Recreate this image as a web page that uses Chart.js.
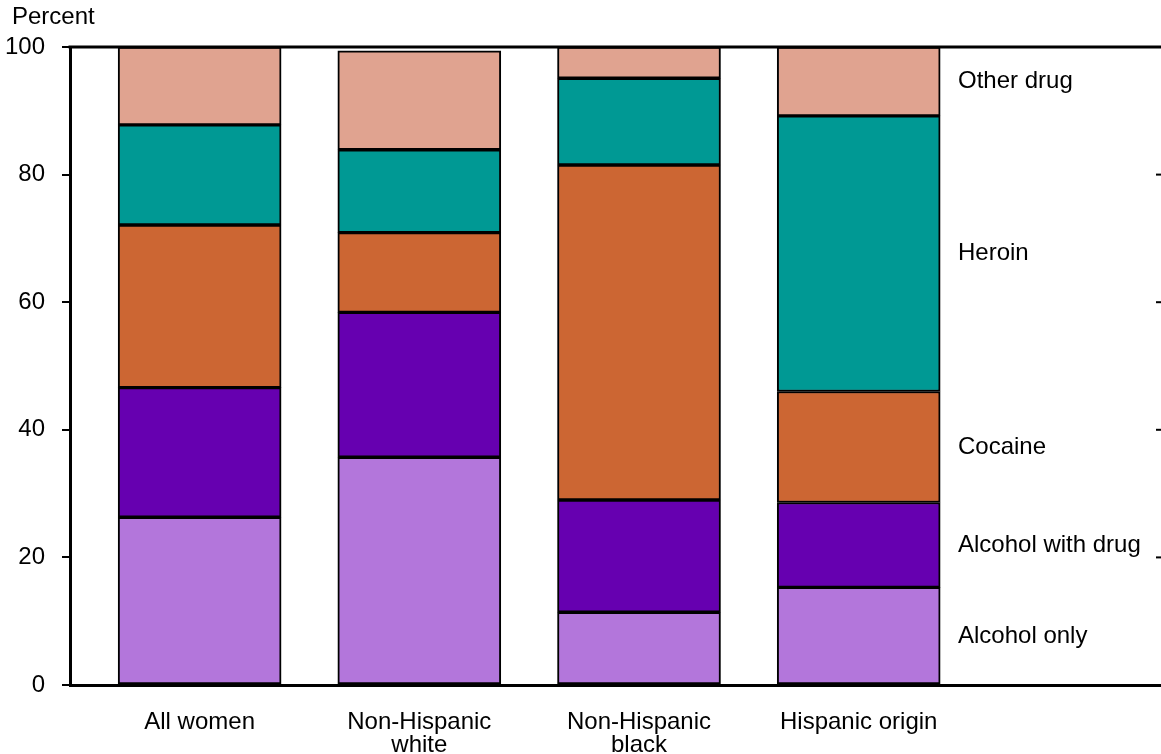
<!DOCTYPE html>
<html>
<head>
<meta charset="utf-8">
<script src="https://cdn.jsdelivr.net/npm/chart.js@4.4.0/dist/chart.umd.min.js"></script>
<style>
  html, body { margin: 0; padding: 0; background: #fff; }
  #wrap { width: 1161px; height: 754px; position: relative; }
</style>
</head>
<body>
<div id="wrap"><canvas id="chart" width="1161" height="754"></canvas></div>
<script>
// Categories (x positions 1..4)
const groups = [['All women'], ['Non-Hispanic', 'white'], ['Non-Hispanic', 'black'], ['Hispanic origin']];
const seriesNames = ['Alcohol only', 'Alcohol with drug', 'Cocaine', 'Heroin', 'Other drug'];

// Percent of women, by drug of choice
const alcoholOnly = [26.3, 35.7, 11.4, 15.3];
const alcoholWithDrug = [20.3, 22.7, 17.6, 13.3];
const cocaine = [25.5, 12.5, 52.5, 17.4];
const heroin = [15.7, 13.0, 13.6, 43.2];
const otherDrug = [12.2, 15.5, 4.9, 10.8];

const yTicks = [0, 20, 40, 60, 80, 100];
const colors = ['#b376db', '#6600b0', '#cc6633', '#009994', '#e0a390'];

const FONT = 'Liberation Sans, Arial, Helvetica, sans-serif';
const seriesValues = [alcoholOnly, alcoholWithDrug, cocaine, heroin, otherDrug];

const datasets = seriesValues.map((vals, i) => ({
  label: seriesNames[i],
  data: vals.map((v, j) => ({ x: j + 1, y: v })),
  backgroundColor: colors[i],
  borderColor: '#000',
  borderWidth: 2,
  borderSkipped: false,
  barThickness: 163
}));

// Frame lines, right-side ticks, axis title and the series labels
const extras = {
  id: 'extras',
  afterDraw(chart) {
    const { ctx, chartArea: a, scales } = chart;
    const y = scales.y;
    ctx.save();
    ctx.strokeStyle = '#000';
    ctx.lineWidth = 3;
    ctx.beginPath();
    ctx.moveTo(a.left - 1.5, a.top);
    ctx.lineTo(a.right, a.top);
    ctx.stroke();

    ctx.lineWidth = 2;
    yTicks.slice(1, -1).forEach(t => {
      const py = y.getPixelForValue(t);
      ctx.beginPath();
      ctx.moveTo(a.right - 5, py);
      ctx.lineTo(a.right, py);
      ctx.stroke();
    });

    ctx.fillStyle = '#000';
    ctx.font = '24px ' + FONT;
    ctx.textBaseline = 'middle';
    ctx.textAlign = 'left';
    ctx.fillText('Percent', 12, 17);

    // labels beside the last bar, at segment midpoints
    const last = groups.length - 1;
    let base = 0;
    seriesValues.forEach((vals, i) => {
      const mid = base + vals[last] / 2;
      base += vals[last];
      ctx.fillText(seriesNames[i], 958, y.getPixelForValue(mid));
    });
    ctx.restore();
  }
};

new Chart(document.getElementById('chart'), {
  type: 'bar',
  data: { datasets },
  options: {
    responsive: false,
    animation: false,
    layout: { padding: { top: 47, right: 0, left: 0, bottom: 0 } },
    plugins: { legend: { display: false }, tooltip: { enabled: false } },
    scales: {
      x: {
        type: 'linear',
        stacked: true,
        offset: false,
        min: 0.41,
        max: 5.376,
        afterBuildTicks: (scale) => { scale.ticks = groups.map((g, i) => ({ value: i + 1 })); },
        afterFit: (scale) => { scale.height = 69; },
        grid: { display: false, offset: false },
        border: { display: true, color: '#000', width: 3 },
        ticks: {
          color: '#000',
          padding: 18,
          maxRotation: 0,
          autoSkip: false,
          font: { family: FONT, size: 24, lineHeight: 0.96 },
          callback: (v) => groups[Math.round(v) - 1]
        }
      },
      y: {
        stacked: true,
        min: 0,
        max: 100,
        afterBuildTicks: (scale) => { scale.ticks = yTicks.map(v => ({ value: v })); },
        afterFit: (scale) => { scale.width = 70; },
        grid: { drawOnChartArea: false, color: '#000', lineWidth: 2, tickLength: 8 },
        border: { display: true, color: '#000', width: 3 },
        ticks: {
          color: '#000',
          padding: 17,
          font: { family: FONT, size: 24 }
        }
      }
    }
  },
  plugins: [extras]
});
</script>
</body>
</html>
